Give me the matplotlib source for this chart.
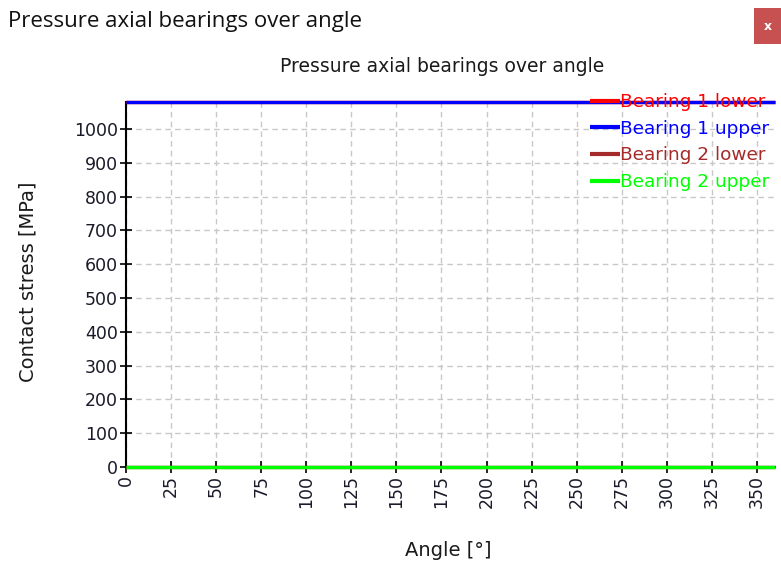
import matplotlib.pyplot as plt
from matplotlib.patches import Rectangle

# data
angle = [0, 360]
bearing1_lower = [1080, 1080]
bearing1_upper = [1080, 1080]
bearing2_lower = [0, 0]
bearing2_upper = [0, 0]

series = [
    ("Bearing 1 lower", bearing1_lower, "#ff0000"),
    ("Bearing 1 upper", bearing1_upper, "#0000ff"),
    ("Bearing 2 lower", bearing2_lower, "#a52a2a"),
    ("Bearing 2 upper", bearing2_upper, "#00ff00"),
]

xticks = list(range(0, 351, 25))
yticks = list(range(0, 1001, 100))

W, H = 781, 564
fig = plt.figure(figsize=(W / 100, H / 100), dpi=100)
fig.patch.set_facecolor("white")

# window title bar
fig.text(8 / W, 1 - 22 / H, "Pressure axial bearings over angle",
         family="Open Sans", fontsize=16, va="center", ha="left", color="#111111")
fig.patches.append(Rectangle((754 / W, 1 - 44 / H), 30 / W, 36 / H,
                             transform=fig.transFigure, facecolor="#c75050",
                             edgecolor="none"))
fig.text(768 / W, 1 - 26 / H, "x", color="white", fontsize=9,
         fontweight="bold", ha="center", va="center")

ax = fig.add_axes([126 / W, 1 - 467 / H, (775 - 126) / W, (467 - 102) / H])

for name, vals, col in series:
    ax.plot(angle, vals, color=col, lw=2.4, label=name, clip_on=False,
            solid_capstyle="butt", zorder=3)

ax.set_xlim(0, 360)
ax.set_ylim(0, 1080)
ax.set_xticks(xticks)
ax.set_yticks(yticks)
ax.tick_params(axis="x", labelrotation=90)
ax.tick_params(direction="inout", length=8, width=1.2, labelsize=12.5, pad=2,
               labelcolor="#1a1a2a")
ax.grid(True, ls=(0, (4, 3)), color="#c8c8c8", lw=1)
for s in ["top", "right"]:
    ax.spines[s].set_visible(False)
for s in ["left", "bottom"]:
    ax.spines[s].set_linewidth(1.5)

ax.set_title("Pressure axial bearings over angle", fontsize=13.5, pad=0,
             x=(442 - 126) / 649, y=(467 - 66) / 365, va="center", color="#1a1a1a")
ax.set_xlabel("Angle [°]", fontsize=14, color="#1a1a1a", va="center")
ax.xaxis.set_label_coords((448 - 126) / 649, (467 - 550) / 365)
ax.set_ylabel("Contact stress [MPa]", fontsize=14, color="#1a1a1a", va="center")
ax.yaxis.set_label_coords((28 - 126) / 649, (467 - 282) / 365)

leg = ax.legend(loc="upper left", bbox_to_anchor=(590 / W, 1 - 93 / H),
                bbox_transform=fig.transFigure, frameon=False, fontsize=13.3,
                handlelength=1.62, handletextpad=0.0, labelspacing=0.47,
                borderaxespad=0, borderpad=0, labelcolor="linecolor")
for line in leg.get_lines():
    line.set_linewidth(3)

fig.savefig("out.png", dpi=100)
